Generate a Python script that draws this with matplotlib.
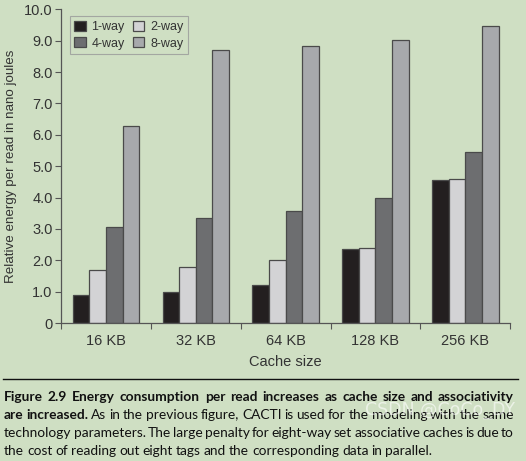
import numpy as np
import matplotlib.pyplot as plt
from matplotlib.lines import Line2D

plt.rcParams['font.family'] = ['Liberation Sans', 'DejaVu Sans']

sizes = ['16 KB', '32 KB', '64 KB', '128 KB', '256 KB']
way_labels = ['1-way', '2-way', '4-way', '8-way']
one_way = [0.90, 1.00, 1.22, 2.37, 4.55]
two_way = [1.70, 1.80, 2.00, 2.40, 4.60]
four_way = [3.07, 3.35, 3.57, 4.00, 5.45]
eight_way = [6.28, 8.70, 8.82, 9.02, 9.46]
yticks = [0, 1, 2, 3, 4, 5, 6, 7, 8, 9, 10]
ytick_labels = ['0', '1.0', '2.0', '3.0', '4.0', '5.0', '6.0', '7.0', '8.0', '9.0', '10.0']

caption = [
    [("Figure 2.9  Energy consumption per read increases as cache size and associativity", 'bold')],
    [("are increased.", 'bold'),
     ("As in the previous figure, CACTI is used for the modeling with the same", 'normal')],
    [("technology parameters. The large penalty for eight-way set associative caches is due to", 'normal')],
    [("the cost of reading out eight tags and the corresponding data in parallel.", 'normal')],
]

bg = '#cfdfc3'
colors = ['#231f20', '#d3d3d5', '#6d6e70', '#a7a9ac']
series = [one_way, two_way, four_way, eight_way]

fig = plt.figure(figsize=(5.26, 4.61), dpi=100, facecolor=bg)
ax = fig.add_axes([0.116, 0.299, 0.854, 0.681], facecolor=bg)

x = np.arange(len(sizes))
w = 0.185
bars = []
for i, (vals, c) in enumerate(zip(series, colors)):
    bars.append(ax.bar(x + (i - 1.5) * w, vals, w, color=c, edgecolor='#4a4a4a',
                       linewidth=0.9, label=way_labels[i]))

ax.set_xlim(-0.5, len(sizes) - 0.5)
ax.set_ylim(0, 10)
ax.set_yticks(yticks)
ax.set_yticklabels(ytick_labels)
ax.set_xticks(x)
ax.set_xticklabels(sizes)
ax.set_xticks(np.arange(len(sizes) + 1) - 0.5, minor=True)
ax.tick_params(axis='x', which='major', length=0, pad=8, labelsize=10.5, labelcolor='#333333')
ax.tick_params(axis='x', which='minor', length=4, width=0.8, color='#555555', direction='out')
ax.tick_params(axis='y', length=4, width=0.8, color='#555555', labelsize=10.5,
               labelcolor='#333333', pad=2)
for s in ['top', 'right']:
    ax.spines[s].set_visible(False)
for s in ['left', 'bottom']:
    ax.spines[s].set_color('#555555')
    ax.spines[s].set_linewidth(0.9)
ax.set_xlabel('Cache size', fontsize=10.5, color='#333333', labelpad=5)
ax.set_ylabel('Relative energy per read in nano joules', fontsize=9.6, color='#333333', labelpad=5)

order = [0, 2, 1, 3]
leg = ax.legend([bars[i] for i in order], [way_labels[i] for i in order],
                ncol=2, loc='upper left', bbox_to_anchor=(0.006, 0.997), fontsize=9,
                frameon=True, fancybox=False, edgecolor='#999999', facecolor=bg,
                handlelength=0.9, handleheight=0.9, handletextpad=0.45,
                columnspacing=0.7, labelspacing=0.3, borderpad=0.35)
leg.get_frame().set_linewidth(0.8)
for t in leg.get_texts():
    t.set_color('#333333')

# caption rule
fig.add_artist(Line2D([0.005, 0.985], [1 - 379 / 461, 1 - 379 / 461], color='#111111', lw=1.0))

# justified caption
fig.canvas.draw()
r = fig.canvas.get_renderer()
left_px, right_px = 4, 514
line_y = [397, 415, 433, 451]
fs = 9.9
cap_font = ['Lato', 'DejaVu Sans']
for li, (parts, ypx) in enumerate(zip(caption, line_y)):
    words = []
    for txt, wt in parts:
        for wd in txt.split(' '):
            if wd:
                words.append((wd, wt))
    arts = []
    total = 0
    for wd, wt in words:
        t = fig.text(0, 1 - ypx / 461, wd, fontsize=fs, fontweight=wt, family=cap_font,
                     color='#111111', va='center', ha='left')
        total += t.get_window_extent(r).width
        arts.append(t)
    if li == len(caption) - 1:
        gap = 3.0
    else:
        gap = (right_px - left_px - total) / (len(words) - 1)
    xp = left_px
    for t in arts:
        t.set_x(xp / 526)
        xp += t.get_window_extent(r).width + gap

fig.text(365 / 526, 1 - 410 / 461, 'CSDN @CoCo_DY', fontsize=12.5, color='white', alpha=0.6,
         family='DejaVu Sans', va='center')

fig.savefig('out.png', dpi=100, facecolor=bg)
